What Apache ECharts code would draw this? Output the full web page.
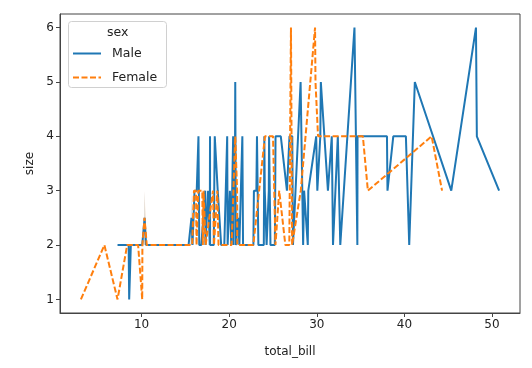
<!DOCTYPE html>
<html><head><meta charset="utf-8">
<script src="https://cdn.jsdelivr.net/npm/echarts@6/dist/echarts.min.js"></script>
<style>html,body{margin:0;padding:0;background:#fff}#c{width:532px;height:368px}</style>
</head><body><div id="c"></div>
<script>
// tips dataset: total_bill and size, by sex
var maleBill = [10.34,21.01,23.68,25.29,8.77,26.88,15.04,14.78,10.27,15.42,18.43,21.58,16.29,20.65,17.92,39.42,19.82,17.81,13.37,12.69,21.7,9.55,18.35,17.78,24.06,16.31,18.69,31.27,16.04,17.46,13.94,9.68,30.4,18.29,22.23,32.4,28.55,18.04,12.54,9.94,25.56,19.49,38.01,11.24,48.27,20.29,13.81,11.02,18.29,17.59,20.08,20.23,15.01,12.02,10.51,17.92,27.2,22.76,17.29,19.44,16.66,32.68,15.98,13.03,18.28,24.71,21.16,28.97,22.49,40.17,27.28,12.03,21.01,12.46,15.36,20.49,25.21,18.24,14.0,38.07,23.95,29.93,11.69,14.26,15.95,8.52,22.82,19.08,16.0,34.3,41.19,9.78,7.51,14.07,13.13,17.26,24.55,19.77,48.17,16.49,21.5,12.66,13.81,24.52,20.76,31.71,50.81,15.81,7.25,31.85,16.82,32.9,17.89,14.48,34.63,34.65,23.33,45.35,23.17,40.55,20.69,30.46,23.1,15.69,28.44,15.48,16.58,7.56,10.34,13.51,18.71,20.53,26.59,38.73,24.27,30.06,25.89,48.33,28.15,11.59,7.74,12.16,8.58,13.42,20.45,13.28,24.01,15.69,11.61,10.77,15.53,10.07,12.6,32.83,29.03,22.67,17.82];
var maleSize = [3,3,2,4,2,4,2,2,2,2,4,2,3,3,2,4,2,4,2,2,2,2,4,2,3,3,3,3,3,2,2,2,4,2,2,4,3,2,2,2,4,2,4,2,4,2,2,2,4,3,3,2,2,2,2,2,4,2,2,2,2,2,2,2,2,2,2,2,2,4,2,2,2,2,2,2,2,2,2,3,2,4,2,2,2,2,3,2,2,6,5,2,2,2,2,3,4,4,6,4,4,2,2,3,2,4,3,2,2,2,2,2,2,2,2,4,2,3,4,2,5,5,3,2,2,2,2,2,2,2,3,4,3,4,2,3,4,4,5,2,2,2,1,2,4,2,4,3,2,2,2,2,2,2,3,2,2];
var femaleBill = [16.99,24.59,35.26,14.83,10.33,16.97,20.29,15.77,19.65,15.06,20.69,16.93,10.29,34.81,26.41,16.45,3.07,17.07,26.86,25.28,14.73,10.07,34.83,5.75,16.32,22.75,11.35,15.38,44.3,22.42,20.92,14.31,7.25,25.71,17.31,10.65,12.43,24.08,13.42,12.48,29.8,14.52,11.38,20.27,11.17,12.26,18.26,8.51,10.33,14.15,13.16,17.47,27.05,16.43,8.35,18.64,11.87,29.85,25.0,13.39,16.21,17.51,10.59,10.63,9.6,20.9,18.15,19.81,43.11,13.0,12.74,13.0,16.4,16.47,12.76,13.27,28.17,12.9,30.14,13.42,15.98,16.27,10.09,22.12,35.83,27.18,18.78];
var femaleSize = [2,4,4,2,3,3,2,2,2,2,4,3,2,4,2,2,1,3,2,2,2,1,4,2,2,2,2,2,3,2,2,2,1,3,2,2,2,4,2,2,6,2,2,2,2,2,2,2,2,2,2,2,6,2,2,3,2,5,4,2,3,2,2,2,2,3,3,2,4,2,2,2,2,3,2,2,3,2,4,2,3,2,2,2,3,2,2];
var xTicks = [10,20,30,40,50];
var yTicks = [1,2,3,4,5,6];

// aggregate like seaborn lineplot: mean per x, 95% CI (for 2 obs = min..max)
function agg(xs, ys){
  var m = {};
  xs.forEach(function(x,i){ (m[x] = m[x] || []).push(ys[i]); });
  var keys = Object.keys(m).map(Number).sort(function(a,b){return a-b;});
  var mean=[], lo=[], hi=[];
  keys.forEach(function(k){
    var v = m[k]; var s = v.reduce(function(a,b){return a+b;},0)/v.length;
    mean.push([k,s]); lo.push([k,Math.min.apply(null,v)]); hi.push([k,Math.max.apply(null,v)]);
  });
  return {mean:mean, lo:lo, hi:hi};
}
var M = agg(maleBill, maleSize), F = agg(femaleBill, femaleSize);
var blue = '#1f77b4', orange = '#ff7f0e';
var font = 'DejaVu Sans';

function band(name, d, color){
  return {name:name+'_ci', type:'custom', data:[0], silent:true, z:1, clip:true,
    renderItem:function(params, api){
      var pts = d.hi.map(function(p){ return api.coord(p); });
      for (var i=d.lo.length-1;i>=0;i--) pts.push(api.coord(d.lo[i]));
      return {type:'polygon', shape:{points:pts}, style:{fill:color, opacity:0.2, stroke:null}};
    }};
}

var chart = echarts.init(document.getElementById('c'), null, {renderer:'canvas'});
chart.setOption({
  animation:false,
  grid:{left:60, right:12, top:14, bottom:55, show:true, borderColor:'#444', borderWidth:1},
  xAxis:{type:'value', min:0.683, max:53.197, interval:10,
    name:'total_bill', nameLocation:'middle', nameGap:33, nameTextStyle:{fontFamily:font, fontSize:12, color:'#222'},
    axisLine:{show:true, lineStyle:{color:'#444'}}, axisTick:{show:true, length:4, lineStyle:{color:'#444'},
      customValues: xTicks},
    axisLabel:{fontFamily:font, fontSize:12, color:'#222', margin:6, customValues: xTicks},
    splitLine:{show:false}},
  yAxis:{type:'value', min:0.75, max:6.25,
    name:'size', nameLocation:'middle', nameGap:24, nameTextStyle:{fontFamily:font, fontSize:12, color:'#222'},
    axisLine:{show:true, lineStyle:{color:'#444'}}, axisTick:{show:true, length:4, lineStyle:{color:'#444'}, customValues: yTicks},
    axisLabel:{fontFamily:font, fontSize:12, color:'#222', margin:6, customValues: yTicks},
    splitLine:{show:false}},
  legend:{data:['Male','Female'], orient:'vertical', left:72, top:47, padding:0, itemWidth:28, itemHeight:10, itemGap:11, z:20,
    itemStyle:{opacity:0},
    textStyle:{fontFamily:font, fontSize:12.5, color:'#222', padding:[0,0,0,6]}},
  graphic:[
    {type:'rect', left:68, top:21, shape:{width:98, height:66, r:3}, style:{fill:'rgba(255,255,255,0.8)', stroke:'#d0d0d0', lineWidth:1}, z:5},
    {type:'text', left:107, top:26, style:{text:'sex', font:'12.5px "DejaVu Sans"', fill:'#222'}, z:21}
  ],
  series: [band('Male', M, blue), band('Female', F, orange),
    {name:'Male', type:'line', data:M.mean, symbol:'none', lineStyle:{color:blue, width:2}, itemStyle:{color:blue}, z:3},
    {name:'Female', type:'line', data:F.mean, symbol:'none', lineStyle:{color:orange, width:2, type:[6,2.5]}, itemStyle:{color:orange}, z:4}
  ]
});
</script></body></html>
